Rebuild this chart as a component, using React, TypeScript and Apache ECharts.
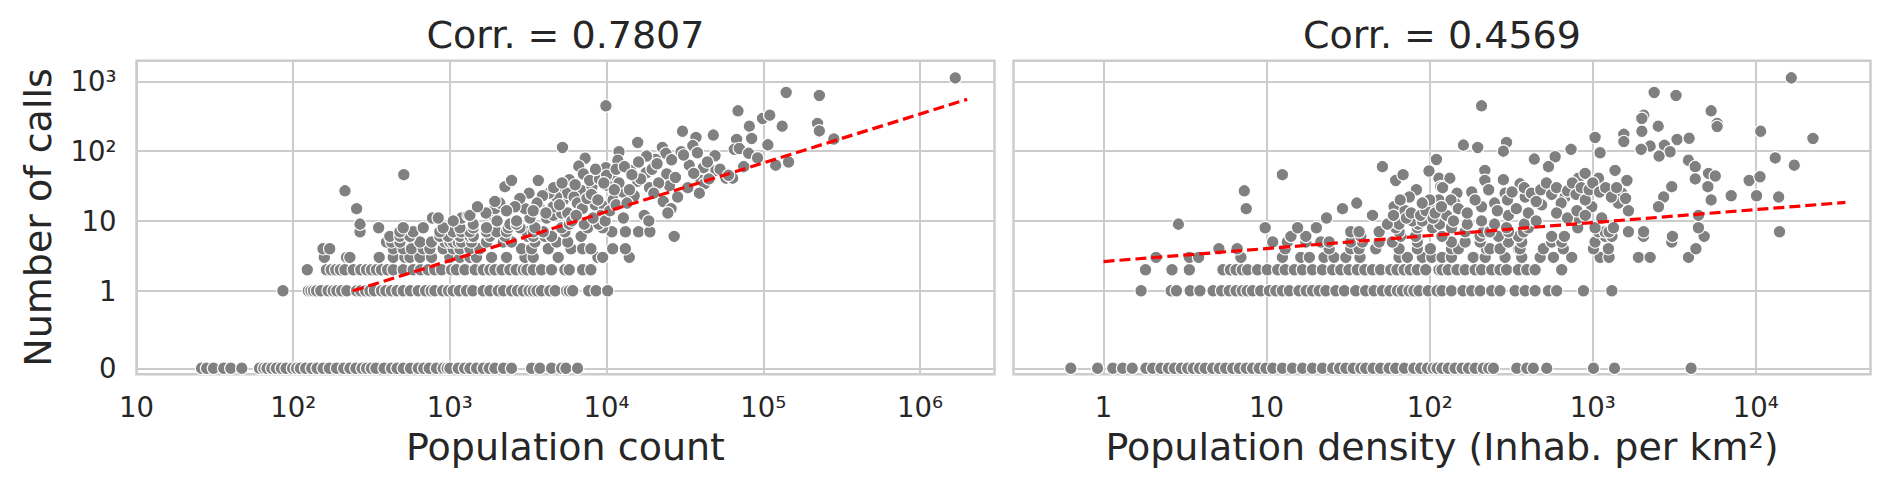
import React, { useEffect, useRef } from "react";
import * as echarts from "echarts";

// ---------- tick labels ----------
const popTickValues = [10, 100, 1000, 10000, 100000, 1000000];
const popTickLabels = ["10", "10²", "10³", "10⁴", "10⁵", "10⁶"];
const densTickValues = [1, 10, 100, 1000, 10000];
const densTickLabels = ["1", "10", "10²", "10³", "10⁴"];
const callTickValues = [0, 1, 10, 100, 1000];
const callTickLabels = ["0", "1", "10", "10²", "10³"];

const titles = ["Corr. = 0.7807", "Corr. = 0.4569"];
const xNames = ["Population count", "Population density (Inhab. per km²)"];
const yName = "Number of calls";

// axis ranges (data units)
const popRange = [10, 2.99e6];
const densRange = [0.2806, 50470];
const callRange = [-0.0765, 1977];

// ---------- left panel: population count vs calls ----------
const popCalls0 = [26, 28, 31, 36, 40, 47, 61, 65, 68, 73, 78, 84, 90, 99, 105, 111, 120, 131, 142, 155, 170, 189, 210, 230, 251, 275, 294, 315, 337, 380, 424, 460, 504, 560, 628, 680, 738, 820, 906, 960, 1000, 1130, 1240, 1342, 1480, 1633, 1780, 1937, 2200, 2476, 3321, 3751, 4453, 5164, 5500, 6530];
const popCalls1 = [86, 125, 130, 135, 141, 150, 167, 180, 190, 204, 220, 254, 270, 290, 309, 330, 366, 390, 424, 460, 504, 560, 628, 700, 760, 802, 900, 980, 1050, 1150, 1277, 1400, 1633, 1800, 2036, 2200, 2476, 2700, 2940, 3200, 3404, 3600, 3846, 4345, 4700, 5560, 5780, 6080, 7690, 8570, 10160];
const popCalls2 = [123, 163, 175, 187, 200, 214, 242, 270, 294, 316, 340, 366, 400, 435, 504, 583, 650, 727, 800, 885, 1025, 1100, 1247, 1450, 1633, 1800, 1937, 2150, 2415, 2650, 2940, 3100, 3404, 3846, 4453, 5420, 5780, 7030, 7940];
const popCalls3 = [158, 219, 230, 354, 435, 516, 556, 644, 764, 1000, 1159, 1342, 1479, 1845, 2300, 3013, 3404, 4914, 8800, 9440, 13960];
const popCalls4 = [155, 171, 435, 504, 569, 676, 745, 906, 1050, 1159, 1342, 1553, 2865, 3321, 4245, 5930, 7030, 7940, 10940, 13180];
const popCalls5 = [394, 424, 480, 644, 764, 929, 1000, 1050, 1130, 1187, 1374, 1714, 2190, 2476, 3490, 4800, 5650];
const popOther: [number, number][] = [
  [414, 6], [480, 6], [556, 6], [863, 6], [975, 6], [1159, 6], [1342, 6], [1410, 6], [1800, 6], [2245, 6], [3150, 6], [3404, 6], [4040, 6], [4453, 6], [27000, 6], [6880, 6],
  [267, 7], [480, 7], [583, 7], [863, 7], [1050, 7], [1187, 7], [1342, 7], [1714, 7], [1990, 7], [2300, 7], [3083, 7], [3404, 7], [3945, 7], [5420, 7], [13200, 7], [16000, 7], [18900, 7], [10800, 7],
  [351, 8], [504, 8], [676, 8], [906, 8], [1159, 8], [1410, 8], [1714, 8], [2356, 8], [2800, 8], [3490, 8], [5164, 8], [7570, 8], [9440, 8],
  [267, 9], [1410, 9], [2415, 9], [2666, 9], [5780, 9], [7200, 9], [8900, 9],
  [774, 11], [843, 11], [1187, 11], [1050, 10], [2666, 10], [3245, 11], [4140, 11], [1310, 12], [1342, 12], [1892, 12], [4570, 12], [5164, 13],
  [254, 15], [1937, 15], [3013, 15], [3751, 15], [4570, 16], [2085, 18], [1937, 19], [5035, 19],
  [214, 27], [2245, 31], [5035, 29], [2476, 38], [3665, 38], [508, 46], [5230, 113],
  [1680000, 1120], [140000, 692], [228000, 627], [9900, 446], [69000, 378], [99000, 294], [110000, 328], [81500, 228], [132000, 228], [222000, 249], [228000, 195],
  [30500, 193], [37200, 157], [48000, 170], [67600, 147], [84300, 152], [282000, 149], [15800, 133], [107000, 123], [35500, 120], [22700, 113], [65300, 106],
  [70300, 109], [29900, 98], [23900, 93], [12000, 98], [80700, 93], [49200, 86], [92000, 80], [7300, 79], [20500, 76], [11800, 74], [120000, 63], [145000, 70],
  [6640, 61], [9900, 58], [14200, 53], [17900, 49], [24200, 47], [33700, 63], [41500, 58], [49900, 53], [57800, 41], [63800, 41], [5780, 39], [7110, 47],
  [10900, 43], [15800, 37], [18800, 30], [25200, 32], [40100, 38], [42100, 34], [6960, 27], [8070, 31], [10200, 32], [12700, 26], [15000, 23], [28400, 22],
  [39100, 25], [23000, 19], [25800, 15], [24600, 13], [8470, 17], [9680, 16], [5650, 13], [6700, 14], [12800, 11], [17400, 12], [18600, 10],
  [5300, 20], [5600, 25], [6200, 22], [6500, 18], [7000, 15], [7500, 21], [8000, 24], [8800, 20], [9200, 12], [9800, 10], [10500, 14], [11000, 20], [11500, 17],
  [6000, 10], [6400, 12], [8200, 11], [4800, 22], [5000, 17], [4300, 25], [4600, 30], [5200, 35], [3900, 23], [3600, 18], [3200, 25], [2800, 21], [3400, 14],
  [4100, 13], [2600, 16], [2300, 14], [2000, 10], [1700, 13], [1500, 16], [6300, 33], [7800, 38], [9000, 40], [10000, 45], [11500, 55], [13000, 60], [8500, 55],
  [12000, 35], [14000, 28], [16500, 40], [19500, 55], [21000, 66], [26000, 75], [31000, 88], [38000, 95], [44000, 70], [53000, 55], [60000, 45], [75000, 60],
  [18000, 85], [16000, 70], [14500, 46], [21500, 35], [27500, 42], [33000, 30], [36000, 48], [45000, 40], [11200, 28], [9600, 35], [20000, 25], [13500, 18]
];
const popFit: [number, number][] = [[241, 1], [2.0e6, 552]];

// ---------- right panel: population density vs calls ----------
const densCalls0 = [0.63, 0.92, 1.14, 1.31, 1.5, 1.82, 2.0, 2.25, 2.5, 2.72, 3.0, 3.28, 3.55, 3.87, 4.2, 4.67, 5.13, 5.6, 6.2, 6.8, 7.5, 8.2, 9.0, 9.9, 10.9, 12.5, 14.4, 16.6, 19.1, 22, 25.4, 28, 30.6, 34, 37.8, 40.5, 45, 50, 56.4, 61.9, 70, 80, 88, 96.8, 105, 111, 119, 130, 143, 158, 173, 190, 213, 230, 246, 342, 394, 432, 522, 1010, 1360, 4010];
const densCalls1 = [1.7, 2.6, 2.8, 3.4, 3.9, 4.7, 5.3, 5.9, 6.5, 7.1, 7.6, 8.2, 9.2, 10.4, 11.4, 12.5, 13.8, 15.8, 17.5, 19.1, 21, 23.1, 26.6, 30, 35.2, 40.5, 45.6, 51.3, 57, 63.4, 68, 74.7, 80, 86, 98, 111, 119, 136, 160, 181, 204, 240, 270, 334, 385, 443, 535, 601, 877, 1309];
const densCalls2 = [1.81, 2.63, 3.36, 5.4, 6.0, 6.5, 7.1, 7.65, 8.8, 10.1, 11.7, 13, 14.8, 16.6, 19.1, 22, 25.4, 28.5, 32, 36, 40, 44.6, 50, 57.7, 63, 69.7, 76, 84, 94.6, 114, 119, 130, 147, 165, 190, 208, 240, 270, 296, 350, 394, 443, 645];
const densCalls3 = [2.1, 3.36, 3.83, 6.96, 12.5, 16.2, 18.3, 22.5, 25.9, 30.6, 37.4, 64.9, 73, 90.2, 103, 119, 136, 185, 219, 290, 367, 476, 574, 743, 1109, 1259, 1906, 2249, 3864];
const densCalls4 = [5.1, 6.6, 13, 24.2, 32.8, 36.9, 46.7, 64.9, 84, 101, 136, 150, 223, 234, 270, 350, 358, 498, 660, 1010, 1247, 4290];
const densCalls5 = [10.9, 13.4, 17.4, 21.5, 24.2, 32.8, 38.7, 49, 59, 84, 136, 165, 204, 304, 367, 560, 645, 1033, 3050];
const densOther: [number, number][] = [
  [14.1, 6], [17.4, 6], [37.8, 6], [66.4, 6], [82, 6], [119, 6], [204, 6], [264, 6], [350, 6], [560, 6], [670, 6], [1191, 6], [1310, 6], [2046, 6], [3080, 6], [4820, 6],
  [32.8, 7], [36.9, 7], [49, 7], [64.9, 7], [165, 7], [213, 7], [234, 7], [304, 7], [376, 7], [1083, 7], [1190, 7], [1259, 7], [1655, 7], [2050, 7], [13970, 7],
  [9.8, 8], [15.5, 8], [20.2, 8], [61.9, 8], [84, 8], [104, 8], [136, 8], [296, 8], [403, 8], [809, 8], [1033, 8], [1340, 8], [4446, 8],
  [2.88, 9], [64.9, 9], [55, 9], [85, 9], [115, 9], [380, 9], [250, 9], [170, 9],
  [7.3, 27], [7.5, 15], [12.5, 46], [23.3, 11], [29.2, 15], [35.7, 18], [44.6, 12], [51.3, 60], [60.5, 16], [61.9, 38], [68.7, 46], [70.6, 14], [78.3, 10],
  [82.9, 28], [90.2, 10], [99, 52], [101, 15], [110, 76], [114, 41], [117, 31], [114, 20],
  [16500, 1122], [2380, 692], [3240, 627], [208, 446], [5320, 378], [5790, 249], [5790, 225], [2055, 328], [2000, 294], [2520, 228], [2000, 193], [1550, 174],
  [1550, 137], [1033, 157], [1109, 95], [10700, 193], [22400, 152], [3290, 147], [3900, 153], [2750, 121], [2980, 98], [2250, 118], [1980, 106], [2550, 85],
  [736, 106], [588, 83], [438, 77], [535, 60], [296, 133], [283, 100], [161, 122], [197, 113], [13150, 80], [17200, 63], [9100, 38], [10600, 43], [10100, 23],
  [13800, 22], [7060, 23], [3860, 74], [4250, 60], [5130, 48], [5640, 44], [4250, 40], [5080, 31], [5320, 20], [4450, 12], [3050, 31], [2720, 22], [2530, 16],
  [1655, 14], [1510, 25], [1435, 18], [1590, 21], [1620, 38], [1370, 53], [1085, 41], [817, 41], [898, 48], [676, 22], [486, 17], [403, 13], [358, 34],
  [385, 22], [290, 25], [304, 12], [218, 53], [283, 39], [218, 38], [208, 16], [208, 10], [181, 26], [147, 25], [133, 41], [143, 18], [127, 12], [817, 11],
  [986, 16], [1135, 11], [120, 30], [135, 20], [150, 15], [170, 13], [190, 20], [230, 28], [250, 18], [260, 14], [300, 20], [320, 26], [340, 15], [380, 30],
  [420, 25], [450, 19], [480, 28], [520, 35], [560, 24], [600, 30], [640, 18], [700, 27], [750, 35], [790, 24], [850, 30], [900, 20], [950, 28], [1000, 35],
  [1100, 26], [1200, 30], [1300, 22], [1400, 30], [600, 13], [700, 11], [800, 14], [900, 12], [450, 10], [140, 10], [60, 12], [72, 11], [77, 13], [88, 12],
  [95, 14], [105, 11], [108, 13], [118, 16], [100, 20], [90, 18], [75, 22], [66, 20]
];
const densFit: [number, number][] = [[1, 2.62], [35400, 18.4]];

// ---------- scales ----------
const lx = (v: number) => Math.log10(v);
const sy = (v: number) =>
  Math.abs(v) <= 1 ? (v * 10) / 9 : Math.sign(v) * (10 / 9 + Math.log10(Math.abs(v)));

const FONT = "'DejaVu Sans', sans-serif";
const TEXT = "#262626";
const GRIDC = "#cccccc";

function rows(groups: [number[], number][], other: [number, number][]) {
  const pts: number[][] = [];
  groups.forEach(([xs, y]) => xs.forEach((x) => pts.push([lx(x), sy(y)])));
  other.forEach(([x, y]) => pts.push([lx(x), sy(y)]));
  return pts;
}

function labelFor(values: number[], labels: string[], tf: (v: number) => number) {
  return (v: number) => {
    let best = 0;
    let d = Infinity;
    values.forEach((t, i) => {
      const dd = Math.abs(tf(t) - v);
      if (dd < d) { d = dd; best = i; }
    });
    return labels[best];
  };
}

export default function App() {
  const ref = useRef<HTMLDivElement>(null);
  useEffect(() => {
    if (!ref.current) return;
    const chart = echarts.init(ref.current, undefined, { renderer: "svg" });

    const popPts = rows(
      [[popCalls0, 0], [popCalls1, 1], [popCalls2, 2], [popCalls3, 3], [popCalls4, 4], [popCalls5, 5]],
      popOther
    );
    const densPts = rows(
      [[densCalls0, 0], [densCalls1, 1], [densCalls2, 2], [densCalls3, 3], [densCalls4, 4], [densCalls5, 5]],
      densOther
    );

    const xAxisBase = (idx: number, range: number[], vals: number[], labs: string[], name: string) => ({
      type: "value",
      gridIndex: idx,
      min: lx(range[0]),
      max: lx(range[1]),
      axisLine: { show: false },
      axisTick: { show: false, customValues: vals.map(lx) },
      axisLabel: {
        customValues: vals.map(lx),
        formatter: labelFor(vals, labs, lx),
        fontSize: 27.5,
        color: TEXT,
        fontFamily: FONT,
        margin: 19,
      },
      splitLine: { show: true, lineStyle: { color: GRIDC, width: 2 } },
      name,
      nameLocation: "middle",
      nameGap: 54,
      nameTextStyle: { fontSize: 38, color: TEXT, fontFamily: FONT },
    });

    const yAxisBase = (idx: number, showLabels: boolean) => ({
      type: "value",
      gridIndex: idx,
      min: sy(callRange[0]),
      max: sy(callRange[1]),
      axisLine: { show: false },
      axisTick: { show: false, customValues: callTickValues.map(sy) },
      axisLabel: {
        show: showLabels,
        customValues: callTickValues.map(sy),
        formatter: labelFor(callTickValues, callTickLabels, sy),
        fontSize: 27.5,
        color: TEXT,
        fontFamily: FONT,
        margin: 20,
      },
      splitLine: { show: true, lineStyle: { color: GRIDC, width: 2 } },
      name: showLabels ? yName : "",
      nameLocation: "middle",
      nameGap: 80,
      nameTextStyle: { fontSize: 38, color: TEXT, fontFamily: FONT },
    });

    const scatter = (idx: number, data: number[][]) => ({
      type: "scatter",
      xAxisIndex: idx,
      yAxisIndex: idx,
      data,
      symbolSize: 12.5,
      itemStyle: { color: "#808080", borderColor: "#ffffff", borderWidth: 1.1, opacity: 1 },
      z: 2,
      silent: true,
    });

    const fit = (idx: number, f: [number, number][]) => ({
      type: "line",
      xAxisIndex: idx,
      yAxisIndex: idx,
      data: f.map(([x, y]) => [lx(x), sy(y)]),
      symbol: "none",
      lineStyle: { color: "#ff0000", width: 3.2, type: [11, 5] },
      z: 3,
      silent: true,
    });

    const titleText = (x: number, text: string) => ({
      type: "text",
      x,
      y: 35,
      style: {
        text,
        fontSize: 38,
        fontFamily: FONT,
        fill: TEXT,
        textAlign: "center",
        textVerticalAlign: "middle",
      },
    });

    chart.setOption({
      animation: false,
      backgroundColor: "#ffffff",
      grid: [
        { left: 136.5, top: 60.7, width: 858, height: 313.5, show: true, borderColor: GRIDC, borderWidth: 2.5, containLabel: false },
        { left: 1013.5, top: 60.7, width: 857, height: 313.5, show: true, borderColor: GRIDC, borderWidth: 2.5, containLabel: false },
      ],
      xAxis: [
        xAxisBase(0, popRange, popTickValues, popTickLabels, xNames[0]),
        xAxisBase(1, densRange, densTickValues, densTickLabels, xNames[1]),
      ],
      yAxis: [yAxisBase(0, true), yAxisBase(1, false)],
      series: [scatter(0, popPts), scatter(1, densPts), fit(0, popFit), fit(1, densFit)],
      graphic: [titleText(565.5, titles[0]), titleText(1442, titles[1])],
    });

    return () => chart.dispose();
  }, []);

  return (
    <div
      ref={ref}
      style={{ position: "absolute", left: 0, top: 0, width: 1892, height: 490, background: "#fff" }}
    />
  );
}
